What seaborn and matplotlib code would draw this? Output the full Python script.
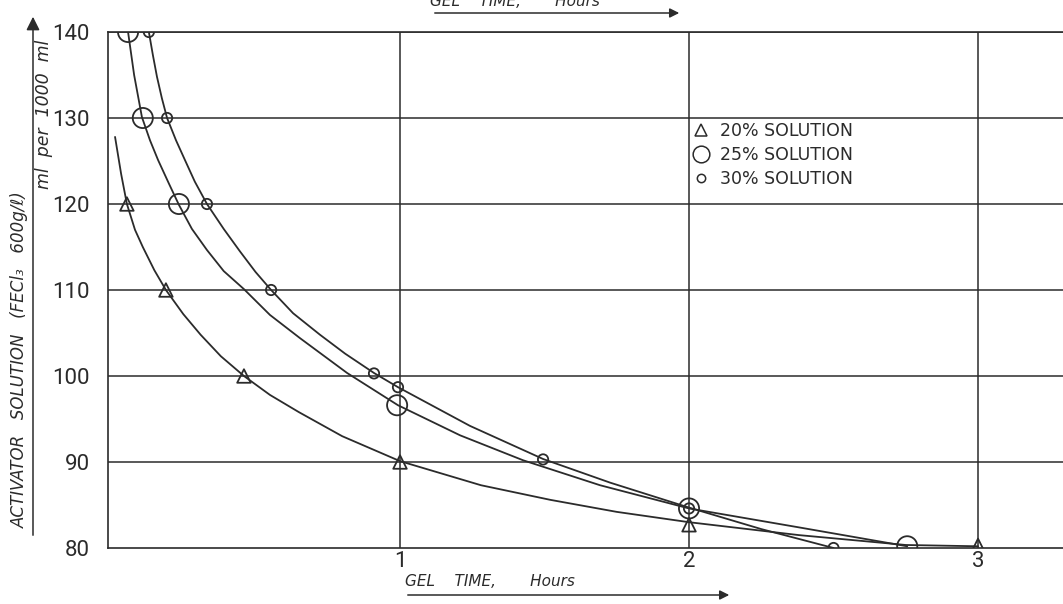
import pandas as pd
import seaborn as sns
import matplotlib.pyplot as plt
from matplotlib.lines import Line2D

solutions = ["20% SOLUTION", "25% SOLUTION", "30% SOLUTION"]

# plotted points: gel time (hours) vs activator (ml per 1000 ml)
pts20_x = [0.055, 0.19, 0.46, 1.0, 2.0, 3.0]
pts20_y = [120, 110, 100, 90, 82.7, 80.3]
pts25_x = [0.059, 0.11, 0.235, 0.99, 2.0, 2.755]
pts25_y = [140, 130, 120, 96.6, 84.6, 80.2]
pts30_x = [0.131, 0.194, 0.332, 0.554, 0.91, 0.993, 1.495, 2.0, 2.5]
pts30_y = [140, 130, 120, 110, 100.3, 98.7, 90.3, 84.6, 80.0]

# the hand drawn curves
curve20_x = [0.014, 0.035, 0.055, 0.083, 0.11, 0.15, 0.19, 0.25, 0.31, 0.38, 0.46, 0.55, 0.65, 0.8, 1.0, 1.28, 1.52, 1.75, 2.0, 2.38, 2.75, 3.0]
curve20_y = [127.8, 123.5, 120.0, 117.0, 115.0, 112.3, 110.0, 107.2, 104.8, 102.3, 100.0, 97.8, 95.8, 93.0, 90.1, 87.3, 85.6, 84.2, 83.0, 81.5, 80.35, 80.2]
curve25_x = [0.059, 0.080, 0.107, 0.135, 0.163, 0.2, 0.235, 0.28, 0.332, 0.39, 0.46, 0.55, 0.654, 0.817, 0.993, 1.208, 1.426, 1.692, 2.0, 2.38, 2.755]
curve25_y = [140, 135.0, 130.1, 127.4, 125.1, 122.4, 119.9, 117.1, 114.65, 112.2, 110.1, 107.1, 104.4, 100.35, 96.6, 93.1, 90.2, 87.3, 84.6, 82.4, 80.2]
curve30_x = [0.131, 0.145, 0.159, 0.176, 0.194, 0.225, 0.256, 0.29, 0.332, 0.39, 0.446, 0.5, 0.554, 0.63, 0.723, 0.81, 0.91, 0.993, 1.242, 1.495, 1.727, 2.0, 2.25, 2.5]
curve30_y = [140, 137.3, 134.8, 132.3, 130.0, 127.4, 125.1, 122.6, 120.0, 117.1, 114.5, 112.1, 110.0, 107.3, 104.8, 102.6, 100.35, 98.7, 94.2, 90.35, 87.6, 84.7, 82.2, 80.0]

y_ticks = [80, 90, 100, 110, 120, 130, 140]
x_ticks = [1, 2, 3]

pts = pd.concat([
    pd.DataFrame({"time": pts20_x, "ml": pts20_y, "sol": solutions[0]}),
    pd.DataFrame({"time": pts25_x, "ml": pts25_y, "sol": solutions[1]}),
    pd.DataFrame({"time": pts30_x, "ml": pts30_y, "sol": solutions[2]}),
])
curves = pd.concat([
    pd.DataFrame({"time": curve20_x, "ml": curve20_y, "sol": solutions[0]}),
    pd.DataFrame({"time": curve25_x, "ml": curve25_y, "sol": solutions[1]}),
    pd.DataFrame({"time": curve30_x, "ml": curve30_y, "sol": solutions[2]}),
])

sns.set_style("white")
plt.rcParams["font.family"] = ["Roboto", "DejaVu Sans"]
ink = "#2b2b2b"

fig = plt.figure(figsize=(10.63, 6.04), dpi=100)
ax = fig.add_axes([108/1063, 56/604, 955/1063, 516/604])

for y in y_ticks[1:]:
    ax.axhline(y, color=ink, lw=1.1, zorder=1)
for x in x_ticks:
    ax.axvline(x, color=ink, lw=1.1, zorder=1)

sns.lineplot(data=curves, x="time", y="ml", units="sol", estimator=None, sort=False,
             color=ink, lw=1.3, ax=ax, zorder=2)

marker_map = {solutions[0]: "^", solutions[1]: "o", solutions[2]: "o"}
size_map = {solutions[0]: 95, solutions[1]: 210, solutions[2]: 55}
for s in solutions:
    sub = pts[pts["sol"] == s]
    sns.scatterplot(data=sub, x="time", y="ml", marker=marker_map[s], s=size_map[s],
                    facecolor="none", edgecolor=ink, linewidth=1.3, ax=ax, zorder=3, legend=False)

ax.set_xlim(-0.0104, 3.294)
ax.set_ylim(80, 140)
ax.set_xticks(x_ticks)
ax.set_yticks(y_ticks)
ax.set_xticklabels([str(v) for v in x_ticks], fontsize=16, color=ink)
ax.set_yticklabels([str(v) for v in y_ticks], fontsize=16, color=ink)
ax.tick_params(axis="y", length=0, pad=13)
ax.tick_params(axis="x", length=0, pad=2)
ax.set_xlabel("")
ax.set_ylabel("")
for side in ["left", "bottom", "top"]:
    ax.spines[side].set_color(ink)
    ax.spines[side].set_linewidth(1.2)
ax.spines["right"].set_visible(False)

handles = [
    Line2D([], [], ls="none", marker="^", ms=9, mfc="none", mec=ink, mew=1.1),
    Line2D([], [], ls="none", marker="o", ms=12, mfc="none", mec=ink, mew=1.1),
    Line2D([], [], ls="none", marker="o", ms=6, mfc="none", mec=ink, mew=1.1),
]
leg = ax.legend(handles, solutions, loc="upper left", bbox_to_anchor=(0.612, 0.825),
                frameon=False, borderpad=0, borderaxespad=0, handlelength=1.0,
                handletextpad=0.6, labelspacing=0.35,
                prop={"family": "DejaVu Sans", "size": 12.5})
for t in leg.get_texts():
    t.set_color(ink)

# axis titles and arrows drawn on the sheet
fig.text(20/1063, 1 - 360/604, "ACTIVATOR   SOLUTION   (FECl\u2083   600g/\u2113)", rotation=90,
         ha="center", va="center", fontsize=12, style="italic", color=ink, family="DejaVu Sans")
fig.text(44/1063, 1 - 114/604, "ml  per  1000  ml", rotation=90, ha="center", va="center",
         fontsize=12.5, style="italic", color=ink, family="DejaVu Sans")
ax.annotate("", xy=(33, 604 - 14), xytext=(33, 604 - 538), xycoords="figure pixels",
            arrowprops=dict(arrowstyle="-|>", color=ink, lw=1.1, mutation_scale=20))

fig.text(405/1063, 1 - 582/604, "GEL    TIME,       Hours", ha="left", va="center",
         fontsize=11, style="italic", color=ink, family="DejaVu Sans")
ax.annotate("", xy=(732, 604 - 595), xytext=(405, 604 - 595), xycoords="figure pixels",
            arrowprops=dict(arrowstyle="-|>", color=ink, lw=1.1, mutation_scale=14))

fig.text(430/1063, 1 - 2/604, "GEL    TIME,       Hours", ha="left", va="center",
         fontsize=11, style="italic", color=ink, family="DejaVu Sans")
ax.annotate("", xy=(682, 604 - 13), xytext=(432, 604 - 13), xycoords="figure pixels",
            arrowprops=dict(arrowstyle="-|>", color=ink, lw=1.1, mutation_scale=14))

fig.savefig("out.png", dpi=100)
